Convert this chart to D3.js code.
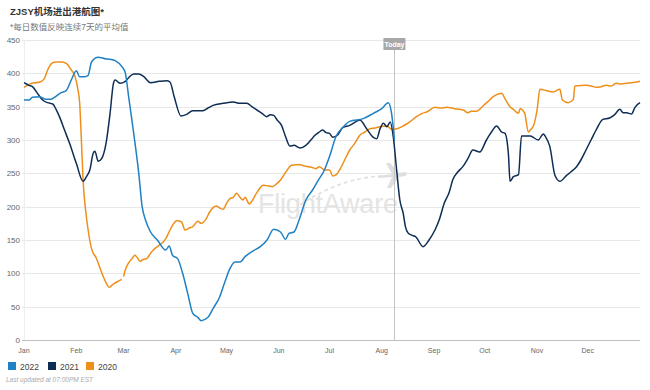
<!DOCTYPE html>
<html>
<head>
<meta charset="utf-8">
<script src="https://cdn.jsdelivr.net/npm/d3@7"></script>
<style>
body { margin:0; background:#fff; }
text { font-family: "Liberation Sans", Arial, "Noto Sans CJK SC", sans-serif; }
</style>
</head>
<body>
<div id="chart"></div>
<script>
// month labels and y ticks
var months = ["Jan","Feb","Mar","Apr","May","Jun","Jul","Aug","Sep","Oct","Nov","Dec"];
var monthStart = [0,31,59,90,120,151,181,212,243,273,304,334];
var yTicks = [0,50,100,150,200,250,300,350,400,450];
var todayDay = 219.5;

// series: day of year -> 7 day average
var days2022 = [0,3,5,9,13,16,18,22,25,28,31,33,36,38,40,44,48,51,54,58,60,62,65,68,70,72,75,79,84,86,88,91,94,97,100,103,105,109,112,116,119,122,125,128,131,136,140,144,148,152,155,157,160,163,167,171,174,178,181,185,189,193,201,207,212,215.8,217.8,219.5];
var vals2022 = [360,360,364,365,361,361,364,371,374,390,404,395,395,397,417,424,422,421,419,410,401,365,310,250,200,180,162,150,135,141,127,122,100,70,40,34,29,34,47,65,87,107,117,117,125,134,140,150,166,162,151,160,162,180,210,225,238,255,275,306,319,328,332,340,347,356,340,300];

var days2021 = [0,3,5,8,11,14,17,19,21,24,27,31,35,37,39,41,42,44,46,48.6,51,53,54,57,60,63,65,68,71,75,80,84.5,86.5,89,93,96,100,106,109,112,118,124,128,132,135,138,141,143.8,146,148,150,152.6,155,157.6,160,163.5,167,170,172.4,175,177,179,181,183,186,189,193,197,199,203,207,209,211,213,215,217,218.8,220.8,222.7,224.7,226,227.7,230,232,236.5,240,243.5,246,249,252,254,257,260,263,266,270,274,277,280,283,285,287,288,290,293,294.8,300,304.7,307.7,309,311.6,314.6,317.5,321.5,324,327.4,330,333,336,339,343,347,350,353,355,357,360,362,365];
var vals2021 = [386,382,380,370,360,356,354,346,335,315,295,265,238,245,255,280,283,268,272,295,340,385,390,385,388,396,399,399,395,386,388,389,387,365,336,338,344,344,348,352,355,357,355,355,350,345,340,335,338,337,330,322,305,291,292,288,292,300,307,312,315,311,310,304,308,319,322,328,330,317,304,302,317,325,320,327,305,255,210,190,170,160,157,155,140,150,165,180,205,222,240,252,260,272,285,282,300,312,321,312,310,280,238,245,248,306,306,300,309,305,290,247,238,247,252,260,270,285,300,315,331,333,338,346,341,341,339,349,356];

var days2020 = [0,4.5,9.5,12,14,16.4,19,22,25,28,30,32,33,34,35,36.5,38,40,43,45,47,49,50.5,52,53,55,57.9,58.5,59,60,61.8,64,65.8,67,68.8,70,72.7,75,76.6,79,82.5,84,86.5,88,90.5,93.4,95.4,98,100,103,105,108,110,114,116,118,120,122,124,126,128,129.7,131,133.5,135,137,139,141.8,145,147,150,152,154.6,158.6,161,163.5,166,170.4,173,175,178,181,183,185,187,190,193,196,199,202,205,208,211,215,218,221,224,226.7,229,232.6,236,238.6,243.5,247,250.4,255,260.3,263,265,268,272,275,278,281,283,285,288,290,293,294,296.7,298.8,300,302,304,305.7,309.6,313.6,317.5,319,322.5,325.5,326.4,333,336,339,342,345,348,351,354,357,360,363,365];
var vals2020 = [379,385,387,392,405,415,417,417,415,405,397,375,355,300,240,195,165,137,122,108,95,84,79,82,84,87,91,null,95,105,115,122,127,124,118,120,122,130,135,140,147,152,165,172,179,177,165,168,170,178,175,182,192,201,198,196,205,212,214,220,214,210,214,204,208,217,225,232,231,230,235,240,250,262,263,263,261,259,257,260,255,255,246,248,255,270,285,295,307,312,317,318,320,321,316,317,320,324,328,335,340,342,349,348,349,347,345,341,343,343,351,358,365,369,370,362,350,346,340,347,340,312,315,322,345,376,374,372,376,360,356,361,381,382,381,379,380,382,381,385,384,385,386,387,388];

var seriesNames = ["2022","2021","2020"];
var seriesColors = ["#1f80c3","#0e2d55","#ee8f1c"];

var W = 650, H = 390;
var margin = {top: 40, right: 10, bottom: 50, left: 24};

var svg = d3.select("#chart").append("svg")
  .attr("width", W).attr("height", H);

var x = d3.scaleLinear().domain([0, 365]).range([margin.left, W - margin.right]);
var y = d3.scaleLinear().domain([0, 450]).range([H - margin.bottom, margin.top]);

// title
svg.append("text").attr("x", 10).attr("y", 15)
  .style("font-size", "9.5px").style("font-weight", "bold").attr("fill", "#333")
  .text("ZJSY机场进出港航图*");
svg.append("text").attr("x", 10).attr("y", 30)
  .style("font-size", "8.5px").attr("fill", "#777")
  .text("*每日数值反映连续7天的平均值");

// grid
svg.append("g").selectAll("line").data(yTicks.filter(function(d){ return d > 0; })).enter()
  .append("line")
  .attr("x1", margin.left - 2).attr("x2", x(365))
  .attr("y1", function(d){ return Math.round(y(d)) + 0.5; })
  .attr("y2", function(d){ return Math.round(y(d)) + 0.5; })
  .attr("stroke", "#e8e8e8").attr("stroke-width", 1);

// y labels
svg.append("g").selectAll("text").data(yTicks).enter()
  .append("text")
  .attr("x", 20).attr("y", function(d){ return y(d) + 3; })
  .attr("text-anchor", "end")
  .style("font-size", "8px").attr("fill", "#666")
  .text(function(d){ return d; });

// left axis line
svg.append("line")
  .attr("x1", margin.left + 0.5).attr("x2", margin.left + 0.5)
  .attr("y1", y(450)).attr("y2", y(0))
  .attr("stroke", "#eee");

// x axis
svg.append("line")
  .attr("x1", margin.left - 2).attr("x2", x(365))
  .attr("y1", Math.round(y(0)) + 0.5).attr("y2", Math.round(y(0)) + 0.5)
  .attr("stroke", "#c0c0c0");

svg.append("g").selectAll("text").data(months).enter()
  .append("text")
  .attr("x", function(d, i){ return x(monthStart[i]); })
  .attr("y", y(0) + 13)
  .attr("text-anchor", "middle")
  .style("font-size", "7px").attr("fill", "#666")
  .text(function(d){ return d; });

// watermark
var wm = svg.append("g").attr("opacity", 0.9);
wm.append("path")
  .attr("d", "M300,205 Q340,178 382,176")
  .attr("fill", "none").attr("stroke", "#dcdcdc").attr("stroke-width", 1.6)
  .attr("stroke-dasharray", "4,3");
wm.append("path")
  .attr("d", "M378,176 L392,174 L386,163 L390,163 L399,173 L405,172 Q409,174 405,176 L399,177 L391,188 L387,188 L392,177 L378,178 Z")
  .attr("fill", "#dcdcdc");
wm.append("text")
  .attr("x", 258).attr("y", 213)
  .attr("textLength", 140)
  .style("font-size", "27px").attr("fill", "#e2e2e2")
  .text("FlightAware");

// today line
svg.append("line")
  .attr("x1", Math.round(x(todayDay)) + 0.5).attr("x2", Math.round(x(todayDay)) + 0.5)
  .attr("y1", 50).attr("y2", y(0))
  .attr("stroke", "#c4c4c4");
svg.append("rect")
  .attr("x", x(todayDay) - 11).attr("y", 38).attr("width", 22).attr("height", 12)
  .attr("fill", "#a8a8a8");
svg.append("text")
  .attr("x", x(todayDay)).attr("y", 47)
  .attr("text-anchor", "middle")
  .style("font-size", "7px").style("font-weight", "bold").attr("fill", "#fff")
  .text("Today");

// lines
var line = d3.line()
  .defined(function(d){ return d[1] !== null; })
  .x(function(d){ return x(d[0]); })
  .y(function(d){ return y(d[1]); })
  .curve(d3.curveMonotoneX);

function pairs(ds, vs) {
  return ds.map(function(d, i){ return [d, vs[i]]; });
}

var allSeries = [pairs(days2020, vals2020), pairs(days2021, vals2021), pairs(days2022, vals2022)];
var drawColors = [seriesColors[2], seriesColors[1], seriesColors[0]];

svg.append("g").selectAll("path").data(allSeries).enter()
  .append("path")
  .attr("d", line)
  .attr("fill", "none")
  .attr("stroke", function(d, i){ return drawColors[i]; })
  .attr("stroke-width", 1.5)
  .attr("stroke-linejoin", "round");

// legend
var legX = [8, 48, 86];
var leg = svg.append("g").selectAll("g").data(seriesNames).enter()
  .append("g")
  .attr("transform", function(d, i){ return "translate(" + legX[i] + ",362)"; });
leg.append("rect").attr("width", 8).attr("height", 8)
  .attr("fill", function(d, i){ return seriesColors[i]; });
leg.append("text").attr("x", 12).attr("y", 7.5)
  .style("font-size", "8.5px").attr("fill", "#444")
  .text(function(d){ return d; });

svg.append("text").attr("x", 6).attr("y", 382)
  .style("font-size", "6.5px").style("font-style", "italic").attr("fill", "#aaa")
  .text("Last updated at 07:00PM EST");
</script>
</body>
</html>
